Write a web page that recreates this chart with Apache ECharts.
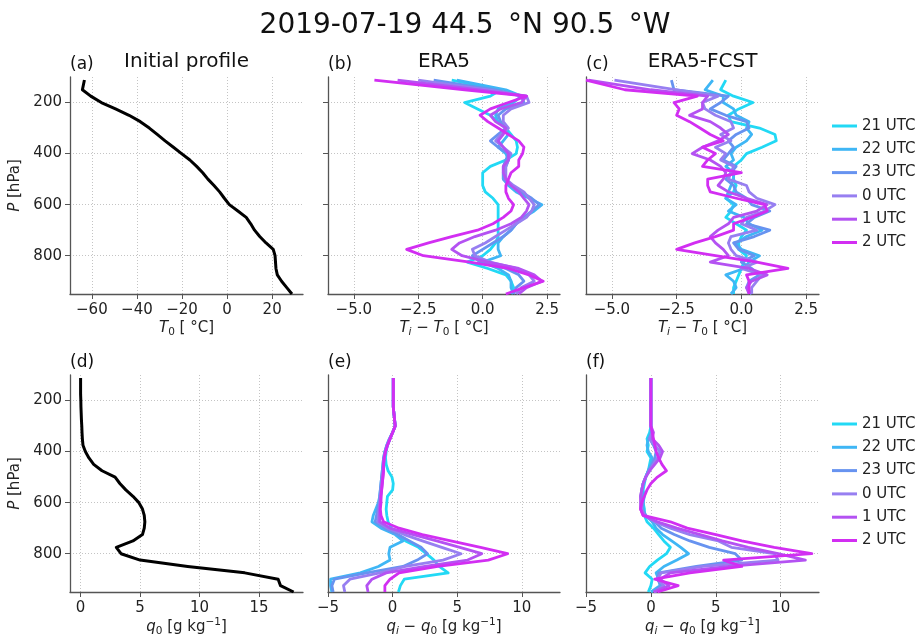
<!DOCTYPE html>
<html><head><meta charset="utf-8">
<script src="https://cdn.jsdelivr.net/npm/echarts@6/dist/echarts.min.js"></script>
<style>html,body{margin:0;padding:0;background:#fff}#c{width:919px;height:639px}</style>
</head><body><div id="c"></div>
<script>
// ---------- data ----------
const LEVELS = [112,150,175,200,225,250,275,300,325,350,375,400,425,450,475,500,525,550,575,600,625,650,675,700,725,750,775,800,825,850,875,900,925,950];
const HOURS = ['21 UTC','22 UTC','23 UTC','0 UTC','1 UTC','2 UTC'];
const COLORS = ['#22d9f5','#3fb6f5','#6793f0','#977ff1','#b452f2','#d22ef2'];
const P_TICKS = [200,400,600,800];
const X_TICKS_T0 = [-60,-40,-20,0,20];
const X_TICKS_DT = [-5,-2.5,0,2.5];
const X_TICKS_Q0 = [0,5,10,15];
const X_TICKS_DQ = [-5,0,5,10];

const T0 = [-63.3,-64.2,-60.5,-55.8,-49.5,-43.5,-38.5,-34.5,-31.0,-27.5,-23.8,-20.2,-16.5,-13.5,-10.8,-8.5,-5.8,-3.3,-1.2,1.0,4.8,8.5,10.5,12.2,14.5,17.3,20.5,21.3,21.5,21.7,22.3,24.2,26.5,28.8];
const Q0 = [0.0,0.0,0.0,0.02,0.03,0.05,0.07,0.1,0.12,0.15,0.2,0.4,0.7,1.1,1.8,2.9,3.3,3.8,4.4,4.9,5.2,5.35,5.4,5.35,5.2,4.4,3.0,3.4,5.0,9.0,13.8,16.6,16.8,17.9];

const DT_ERA5 = [
 [-1.2,0.7,0.3,-0.7,-0.2,0.3,0.6,0.9,1.1,1.3,1.35,1.3,0.9,0.3,0.0,0.0,0.0,0.1,0.4,0.6,0.6,0.6,0.6,0.6,0.6,0.5,0.3,0.0,-0.6,0.2,0.9,1.1,1.2,1.1],
 [-1.0,0.9,1.5,1.2,0.6,0.5,0.6,0.9,1.0,0.8,0.6,0.9,1.0,0.9,0.8,0.8,1.0,1.3,1.8,2.3,2.0,1.6,1.3,1.1,0.8,0.6,0.6,0.7,0.0,0.6,1.0,1.1,1.1,1.2],
 [-1.9,0.5,1.5,1.6,0.9,0.6,0.7,0.9,0.6,0.3,0.6,1.0,0.9,0.8,0.8,0.8,1.1,1.5,1.9,2.2,1.9,1.6,1.3,1.1,0.8,0.4,0.0,-0.4,-0.1,0.9,1.4,1.6,1.3,1.2],
 [-2.5,0.2,1.7,1.8,1.1,0.8,0.8,1.0,0.7,0.5,0.8,1.1,1.0,0.9,0.9,0.9,1.2,1.6,1.8,2.0,1.9,1.7,1.3,0.9,0.5,0.1,-0.4,-0.3,0.3,1.3,1.8,2.0,1.5,1.3],
 [-3.3,-0.2,1.7,1.5,0.7,0.3,0.5,0.9,0.8,0.6,0.8,1.0,1.0,0.8,0.8,0.9,1.1,1.4,1.6,1.8,1.7,1.5,1.1,0.5,-0.3,-0.9,-1.2,-0.8,0.2,1.4,2.0,2.3,1.7,1.4],
 [-4.2,-0.7,1.7,1.0,0.3,-0.1,0.2,0.6,1.0,1.4,1.6,1.55,1.4,1.4,1.1,1.0,0.9,0.9,1.0,1.2,1.1,0.8,0.4,-0.2,-1.2,-2.1,-2.95,-2.3,-0.5,1.0,1.8,2.35,1.6,0.9]
];
const DT_FCST = [
 [-0.6,-0.8,-0.3,0.45,-0.1,-0.5,-0.4,0.7,1.3,1.35,0.8,0.2,0.0,-0.3,-0.3,-0.3,-0.2,-0.3,-0.6,-0.3,-0.4,-0.6,-0.2,0.2,0.0,-0.1,-0.1,0.2,0.1,0.0,-0.1,-0.2,-0.3,-0.3],
 [-1.1,-1.4,-0.7,-0.7,-0.3,-0.2,0.3,0.2,0.4,0.2,-0.2,-0.4,-0.3,-0.6,-0.3,-0.3,-0.4,-0.5,-0.6,-0.2,-0.5,0.1,0.3,0.8,0.2,-0.2,0.0,0.7,0.3,0.1,-0.6,-0.3,-0.2,-0.4],
 [-2.7,-2.6,-0.5,-0.8,-1.2,-0.6,0.2,0.3,-0.2,-0.5,-0.3,-0.5,-0.7,-0.2,-0.4,-0.6,-0.3,-0.2,0.2,0.4,1.1,0.5,0.2,1.1,0.5,-0.3,-0.1,0.5,0.0,0.4,0.7,0.3,0.2,0.4],
 [-4.9,-2.5,-0.9,-1.5,-1.4,-1.0,-0.4,-0.3,-0.8,-0.4,-1.0,-0.6,-0.8,-0.3,-0.4,-0.5,0.2,0.3,0.6,1.3,0.9,0.2,0.0,0.6,-0.4,-0.5,-0.4,-0.2,0.6,0.0,0.8,0.6,0.4,0.4],
 [-5.9,-3.5,-1.3,-1.5,-1.5,-2.0,-1.2,-0.8,-0.5,-0.9,-1.5,-1.9,-1.2,-0.8,-0.6,-0.7,-0.9,-0.5,0.2,1.0,0.6,-0.3,-0.5,-0.9,-1.2,-1.0,-0.7,-0.5,-1.2,0.3,1.0,0.4,0.2,0.3],
 [-6.0,-4.5,-1.7,-2.6,-2.4,-2.5,-2.0,-1.6,-1.2,-0.7,-1.5,-1.0,-1.3,-1.5,0.0,-1.3,-1.3,-1.2,-0.2,0.9,1.0,0.4,-0.3,-0.3,-1.0,-1.8,-2.5,-1.0,0.6,1.8,0.2,0.3,0.3,0.3]
];
const DQ_ERA5 = [
 [0.05,0.05,0.05,0.05,0.05,0.1,0.15,0.2,0.0,-0.2,-0.4,-0.5,-0.55,-0.5,-0.35,-0.05,0.05,0.0,-0.4,-0.45,-0.5,-0.45,-0.35,-0.1,0.3,1.0,2.0,2.6,3.2,3.6,4.3,0.9,0.6,0.45],
 [0.05,0.05,0.05,0.05,0.05,0.1,0.15,0.2,0.0,-0.25,-0.45,-0.6,-0.7,-0.75,-0.8,-0.85,-0.9,-0.95,-1.0,-1.1,-1.3,-1.5,-1.6,-0.9,0.2,0.8,-0.2,-0.3,-0.2,-1.1,-2.5,-4.8,-4.8,-4.7],
 [0.05,0.05,0.05,0.05,0.05,0.1,0.15,0.2,0.0,-0.25,-0.45,-0.6,-0.7,-0.75,-0.8,-0.85,-0.9,-0.95,-1.0,-1.05,-1.15,-1.25,-1.35,-0.6,0.4,1.3,2.2,2.7,1.9,0.8,-2.0,-4.5,-4.7,-4.6],
 [0.05,0.05,0.05,0.05,0.05,0.1,0.15,0.2,0.0,-0.2,-0.4,-0.55,-0.65,-0.7,-0.75,-0.8,-0.85,-0.9,-0.95,-1.0,-1.05,-1.1,-1.15,-0.4,0.9,2.3,3.8,5.3,3.9,1.0,-1.0,-3.3,-3.8,-3.7],
 [0.05,0.05,0.05,0.05,0.05,0.1,0.15,0.2,0.0,-0.2,-0.4,-0.55,-0.65,-0.7,-0.7,-0.75,-0.8,-0.85,-0.9,-0.95,-1.0,-1.0,-1.0,-0.2,1.6,3.4,5.2,6.9,5.8,2.5,-0.5,-1.6,-2.0,-1.9],
 [0.05,0.05,0.05,0.05,0.05,0.1,0.15,0.2,0.0,-0.2,-0.4,-0.55,-0.65,-0.7,-0.7,-0.75,-0.8,-0.85,-0.9,-0.9,-0.95,-0.9,-0.7,0.5,2.3,4.5,6.8,8.9,7.4,3.5,0.5,-0.2,-0.6,-0.6]
];
const DQ_FCST = [
 [0,0,0,0,0,0,0,0,-0.1,-0.3,-0.2,-0.3,0.0,-0.1,-0.2,-0.4,-0.5,-0.6,-0.5,-0.6,-0.5,-0.5,-0.3,0.2,0.6,1.0,1.5,1.2,0.5,-0.1,-0.45,0.1,0.0,-0.2],
 [0,0,0,0,0,0,0,0,0.0,-0.2,-0.3,-0.2,0.1,0.0,-0.2,-0.4,-0.6,-0.7,-0.6,-0.6,-0.6,-0.4,0.1,0.4,0.9,1.6,2.3,2.9,2.0,1.0,0.4,0.6,0.7,0.0],
 [0,0,0,0,0,0,0,0,0.1,-0.1,0.2,0.4,0.3,0.1,-0.2,-0.4,-0.6,-0.7,-0.7,-0.6,-0.7,-0.4,0.3,0.8,1.8,3.0,4.5,6.5,7.0,3.5,0.6,0.5,0.8,0.2],
 [0,0,0,0,0,0,0,0,0.1,-0.1,0.3,0.7,0.5,0.2,-0.1,-0.4,-0.6,-0.7,-0.8,-0.7,-0.7,-0.5,0.3,1.5,3.0,5.2,6.2,9.5,9.8,4.0,0.8,0.5,1.0,0.3],
 [0,0,0,0,0,0,0,0,0.2,0.1,0.6,0.9,0.7,0.3,-0.1,-0.4,-0.6,-0.7,-0.8,-0.8,-0.8,-0.6,0.5,2.0,3.8,5.5,7.5,9.8,11.9,6.0,1.5,0.7,1.4,0.2],
 [0,0,0,0,0,0,0,0,0.1,0.2,0.3,0.4,0.6,0.85,1.2,0.5,0.0,-0.3,-0.5,-0.7,-0.8,-0.6,1.5,2.8,5.0,7.0,9.5,12.4,5.6,7.0,3.0,0.3,2.1,0.5]
];

// ---------- chart ----------
const FONT = 'DejaVu Sans';
const AX = '#555';
function fmt(v, dec){ const s = Math.abs(v).toFixed(dec); return (v < 0 ? '\u2212' : '') + s; }
const RICH = {
  i:{fontStyle:'italic', fontSize:15, fontFamily:FONT, color:'#222', lineHeight:20},
  s:{fontSize:10.5, fontFamily:FONT, color:'#222', verticalAlign:'bottom', lineHeight:20},
  si:{fontSize:10.5, fontStyle:'italic', fontFamily:FONT, color:'#222', verticalAlign:'bottom', lineHeight:20},
  p:{fontSize:10.5, fontFamily:FONT, color:'#222', verticalAlign:'top', lineHeight:20},
  n:{fontSize:15, fontFamily:FONT, color:'#222', lineHeight:20}
};
const grids = [
  {left:70, top:77, width:233, height:217},
  {left:328, top:77, width:232, height:217},
  {left:586, top:77, width:233, height:217},
  {left:70, top:375, width:233, height:217},
  {left:328, top:375, width:232, height:217},
  {left:586, top:375, width:233, height:217}
];
function xAxis(gi, min, max, ticks, dec, name){
  return {type:'value', gridIndex:gi, min:min, max:max, position:'bottom',
    axisLine:{show:true, onZero:false, lineStyle:{color:AX, width:1.3}},
    axisTick:{show:true, inside:false, length:5, customValues:ticks, lineStyle:{color:AX, width:1}},
    axisLabel:{show:true, customValues:ticks, formatter:v=>fmt(v,dec), color:'#222', fontSize:15, fontFamily:FONT, margin:9},
    splitLine:{show:true, customValues:ticks, lineStyle:{type:[1,2], color:'#c4c4c4', width:1}},
    name:name, nameLocation:'middle', nameGap:24,
    nameTextStyle:{fontSize:15, fontFamily:FONT, color:'#222', rich:RICH}
  };
}
function yAxis(gi, labels){
  return {type:'value', gridIndex:gi, min:100, max:950, inverse:true,
    axisLine:{show:true, onZero:false, lineStyle:{color:AX, width:1.3}},
    axisTick:{show:true, inside:false, length:5, customValues:P_TICKS, lineStyle:{color:AX, width:1}},
    axisLabel:{show:labels, customValues:P_TICKS, color:'#222', fontSize:15, fontFamily:FONT, margin:8},
    splitLine:{show:true, customValues:P_TICKS, lineStyle:{type:[1,2], color:'#c4c4c4', width:1}},
    name: labels ? '{i|P}{n| [hPa]}' : '', nameLocation:'middle', nameGap:45,
    nameTextStyle:{fontSize:15, fontFamily:FONT, color:'#222', rich:RICH}
  };
}
const DEG = '{n| [ °C]}';
const xAxes = [
  xAxis(0, -69.7, 33.7, X_TICKS_T0, 0, '{i|T}{s|0}' + DEG),
  xAxis(1, -6, 3, X_TICKS_DT, 1, '{i|T}{si|i}{n| \u2212 }{i|T}{s|0}' + DEG),
  xAxis(2, -6, 3, X_TICKS_DT, 1, '{i|T}{si|i}{n| \u2212 }{i|T}{s|0}' + DEG),
  xAxis(3, -0.89, 18.69, X_TICKS_Q0, 0, '{i|q}{s|0}{n| [g kg}{p|\u22121}{n|]}'),
  xAxis(4, -5, 12.95, X_TICKS_DQ, 0, '{i|q}{si|i}{n| \u2212 }{i|q}{s|0}{n| [g kg}{p|\u22121}{n|]}'),
  xAxis(5, -5, 12.95, X_TICKS_DQ, 0, '{i|q}{si|i}{n| \u2212 }{i|q}{s|0}{n| [g kg}{p|\u22121}{n|]}')
];
const yAxes = [0,1,2,3,4,5].map(g => yAxis(g, g === 0 || g === 3));

function profile(vals){ return LEVELS.map((p, i) => [vals[i], p]); }
const series = [];
series.push({type:'line', xAxisIndex:0, yAxisIndex:0, data:profile(T0), showSymbol:false, symbol:'none',
  lineStyle:{color:'#000', width:3, join:'round'}, silent:true});
series.push({type:'line', xAxisIndex:3, yAxisIndex:3, data:profile(Q0), showSymbol:false, symbol:'none',
  lineStyle:{color:'#000', width:3, join:'round'}, silent:true});
[[1, DT_ERA5],[2, DT_FCST],[4, DQ_ERA5],[5, DQ_FCST]].forEach(([g, arr]) => {
  arr.forEach((vals, k) => {
    series.push({type:'line', name:HOURS[k], xAxisIndex:g, yAxisIndex:g, data:profile(vals),
      showSymbol:false, symbol:'none', color:COLORS[k],
      lineStyle:{color:COLORS[k], width:2.8, join:'round'}, silent:true});
  });
});

function txt(x, y, text, size, align){
  return {type:'text', x:x, y:y, silent:true,
    style:{text:text, fontSize:size, fontFamily:FONT, fill:'#111', textAlign:align, textVerticalAlign:'middle'}};
}
const legendBase = {data:HOURS, orient:'vertical', left:832, itemWidth:25, itemHeight:3, icon:'rect', itemGap:5.3,
  padding:0, textStyle:{fontSize:15, fontFamily:FONT, color:'#222', lineHeight:18}};

const option = {
  animation:false,
  backgroundColor:'#fff',
  grid:grids,
  xAxis:xAxes,
  yAxis:yAxes,
  series:series,
  legend:[Object.assign({top:117}, legendBase), Object.assign({top:415}, legendBase)],
  graphic:[
    txt(465, 26, '2019-07-19 44.5\u2009 °N 90.5\u2009 °W', 28, 'center'),
    txt(70, 65, '(a)', 17, 'left'),
    txt(186.5, 62, 'Initial profile', 20, 'center'),
    txt(328, 65, '(b)', 17, 'left'),
    txt(444, 62, 'ERA5', 20, 'center'),
    txt(586, 65, '(c)', 17, 'left'),
    txt(702.5, 62, 'ERA5-FCST', 20, 'center'),
    txt(70, 363, '(d)', 17, 'left'),
    txt(328, 363, '(e)', 17, 'left'),
    txt(586, 363, '(f)', 17, 'left')
  ]
};
const chart = echarts.init(document.getElementById('c'), null, {renderer:'canvas'});
chart.setOption(option);
</script>
</body></html>
